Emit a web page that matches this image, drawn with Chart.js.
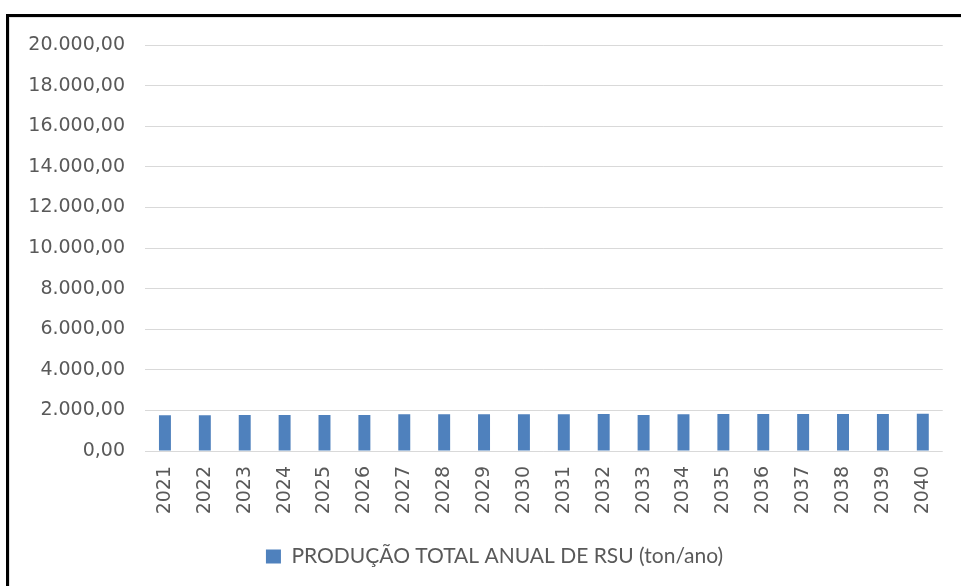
<!DOCTYPE html>
<html>
<head>
<meta charset="utf-8">
<script src="https://cdn.jsdelivr.net/npm/chart.js@4"></script>
<style>
  html, body { margin: 0; padding: 0; background: #fff; overflow: hidden; }
  #frame { position: absolute; left: 6px; top: 14px; width: 1200px; height: 1200px;
           border-top: 3px solid #000; border-left: 3px solid #000; box-sizing: border-box; }
  #inner { position: absolute; left: 0; top: 0; width: 100%; height: 100%;
           border-top: 1px solid #e2e2e2; border-left: 1px solid #e2e2e2; box-sizing: border-box; }
  #c { position: absolute; left: 0; top: 0; }
</style>
</head>
<body>
<div id="frame"><div id="inner"></div></div>
<canvas id="c" width="961" height="586"></canvas>
<script>
const categories = ["2021","2022","2023","2024","2025","2026","2027","2028","2029","2030",
                    "2031","2032","2033","2034","2035","2036","2037","2038","2039","2040"];
const producao = [1760, 1765, 1768, 1772, 1775, 1778, 1805, 1808, 1810, 1813,
                  1815, 1818, 1770, 1815, 1818, 1820, 1822, 1825, 1827, 1830];
const seriesLabel = "PRODUÇÃO TOTAL ANUAL DE RSU (ton/ano)";
const yMin = 0, yMax = 20000, yStep = 2000;

function fmtBR(v) {
  return v.toLocaleString('pt-BR', { minimumFractionDigits: 2, maximumFractionDigits: 2 });
}

const legendShift = {
  id: 'legendShift',
  afterLayout(chart) {
    const lg = chart.legend;
    if (lg) { lg.left += 22; lg.right += 22; }
  }
};

new Chart(document.getElementById('c'), {
  type: 'bar',
  data: {
    labels: categories,
    datasets: [{
      label: seriesLabel,
      data: producao,
      backgroundColor: '#4F81BD',
      borderWidth: 0,
      barPercentage: 0.3,
      categoryPercentage: 1.0
    }]
  },
  options: {
    responsive: false,
    animation: false,
    devicePixelRatio: 1,
    layout: { padding: { left: 0, right: 16, top: 45, bottom: 9 } },
    plugins: {
      legend: {
        position: 'bottom',
        labels: {
          boxWidth: 15, boxHeight: 14, padding: 10,
          color: '#595959',
          font: { family: 'Lato', size: 21 }
        }
      },
      tooltip: { enabled: false }
    },
    scales: {
      x: {
        grid: { display: false, drawTicks: false },
        border: { display: false },
        ticks: {
          color: '#595959', font: { family: 'DejaVu Sans', size: 19 },
          minRotation: 90, maxRotation: 90, padding: 15, autoSkip: false
        },
        afterFit: s => { s.height = 85; }
      },
      y: {
        min: yMin, max: yMax,
        grid: { color: '#d9d9d9', lineWidth: 1, drawTicks: false },
        border: { display: false },
        ticks: {
          stepSize: yStep, color: '#595959', padding: 20,
          font: { family: 'DejaVu Sans', size: 19 },
          callback: v => fmtBR(v)
        },
        afterFit: s => { s.width = 145; }
      }
    }
  },
  plugins: [legendShift]
});
</script>
</body>
</html>
